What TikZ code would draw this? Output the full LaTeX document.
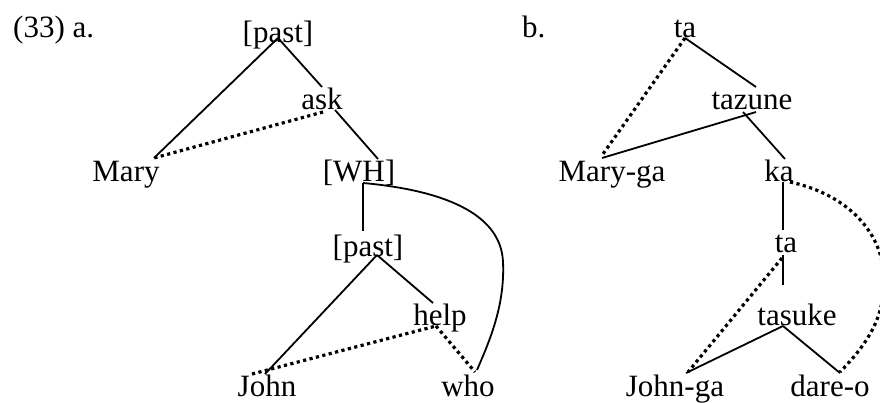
\documentclass[tikz,border=0pt]{standalone}
\usepackage{fontspec}
\setmainfont{Liberation Serif}
\begin{document}
\begin{tikzpicture}[x=1pt,y=-1pt,
  lbl/.style={anchor=base, inner sep=0pt, font=\fontsize{31}{36}\selectfont},
  edge/.style={line width=1.8pt},
  link/.style={line width=3.2pt, dash pattern=on 3.2pt off 3.4pt}]
\useasboundingbox (0,0) rectangle (880,403);

% ---- tree (a) ----
\node[lbl, anchor=base west] (laba) at (13,38) {(33) a.};
\node[lbl] (pastA) at (278,43) {[past]};
\node[lbl] (ask)   at (322,110) {ask};
\node[lbl] (Mary)  at (126,182) {Mary};
\node[lbl] (WH)    at (359,182) {[WH]};
\node[lbl] (pastB) at (368,257) {[past]};
\node[lbl] (help)  at (440,325) {help};
\node[lbl] (John)  at (267,396) {John};
\node[lbl] (who)   at (468,396) {who};

\coordinate (pastA-dn) at (278,38);
\coordinate (Mary-up)  at (154,158);
\coordinate (ask-up)   at (322,87);
\coordinate (ask-dot)  at (323,112);
\coordinate (ask-dn)   at (335,110);
\coordinate (WH-up)    at (378,159);
\coordinate (WH-dn)    at (363,183);
\coordinate (pastB-up) at (363,231);
\coordinate (pastB-dn) at (377,255);
\coordinate (John-up)  at (265,374);
\coordinate (John-dot) at (252,374);
\coordinate (help-up)  at (433,303);
\coordinate (help-dot) at (436,326);
\coordinate (who-up)   at (475,372);
\coordinate (who-arc)  at (477,370);

\draw[edge] (pastA-dn) -- (Mary-up);
\draw[edge] (pastA-dn) -- (ask-up);
\draw[link] (ask-dot) -- (Mary-up);
\draw[edge] (ask-dn) -- (WH-up);
\draw[edge] (WH-dn) -- (pastB-up);
\draw[edge] (pastB-dn) -- (John-up);
\draw[edge] (pastB-dn) -- (help-up);
\draw[link] (John-dot) -- (help-dot);
\draw[link] (help-dot) -- (who-up);
\draw[edge] (WH-dn) .. controls (440,190) and (501,212) .. (503,262)
                    .. controls (505,305) and (490,340) .. (who-arc);

% ---- tree (b) ----
\node[lbl, anchor=base west] (labb) at (522,38) {b.};
\node[lbl] (taA)    at (685,38) {ta};
\node[lbl] (tazune) at (752,110) {tazune};
\node[lbl] (Maryga) at (612,182) {Mary-ga};
\node[lbl] (ka)     at (779,182) {ka};
\node[lbl] (taB)    at (786,252) {ta};
\node[lbl] (tasuke) at (797,325) {tasuke};
\node[lbl] (Johnga) at (675,396) {John-ga};
\node[lbl] (dareo)  at (830,396) {dare-o};

\coordinate (taA-dn)    at (685,38);
\coordinate (tazune-up) at (756,87);
\coordinate (Maryga-dot) at (603,154);
\coordinate (tazune-l)  at (756,112);
\coordinate (Maryga-up) at (602,158);
\coordinate (tazune-r)  at (743,112);
\coordinate (ka-up)     at (785,159);
\coordinate (ka-dn)     at (783,182);
\coordinate (ka-dot)    at (790,182);
\coordinate (taB-up)    at (783,230);
\coordinate (taB-dn)    at (783,255);
\coordinate (taB-dot)   at (782,258);
\coordinate (tasuke-up) at (783,285);
\coordinate (tasuke-dn) at (783,326);
\coordinate (Johnga-up) at (686,373);
\coordinate (Johnga-dot) at (688,372);
\coordinate (dareo-up)  at (840,373);
\coordinate (dareo-dot) at (840,372);

\draw[edge] (taA-dn) -- (tazune-up);
\draw[link] (taA-dn) -- (Maryga-dot);
\draw[edge] (tazune-l) -- (Maryga-up);
\draw[edge] (tazune-r) -- (ka-up);
\draw[edge] (ka-dn) -- (taB-up);
\draw[edge] (taB-dn) -- (tasuke-up);
\draw[link] (taB-dot) -- (Johnga-dot);
\draw[edge] (tasuke-dn) -- (Johnga-up);
\draw[edge] (tasuke-dn) -- (dareo-up);
\draw[link] (ka-dot) .. controls (850,195) and (884,235) .. (884,280)
                     .. controls (884,320) and (866,345) .. (dareo-dot);
\end{tikzpicture}
\end{document}
